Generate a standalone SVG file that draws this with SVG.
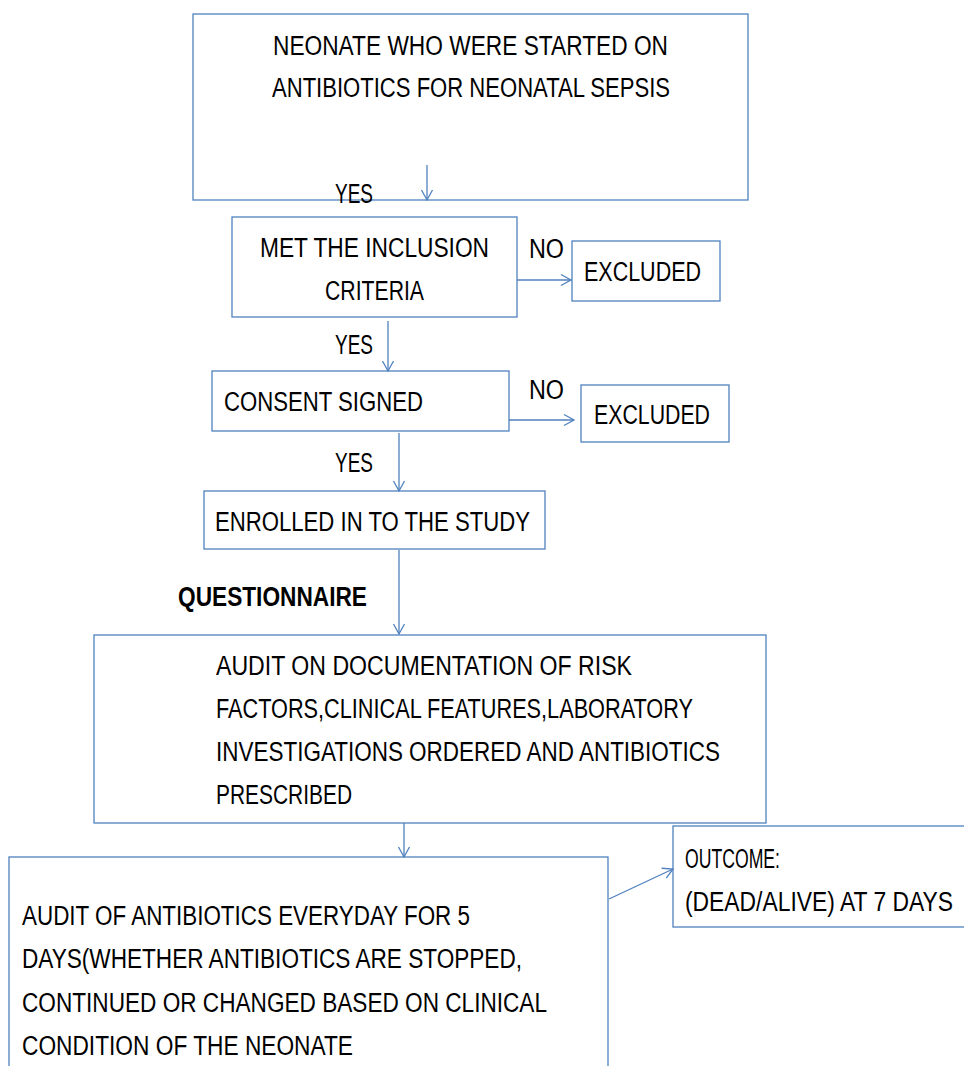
<svg xmlns="http://www.w3.org/2000/svg" width="964" height="1066" viewBox="0 0 964 1066">
<style>
.box{fill:#fff;stroke:#4F81BD;stroke-width:1.3}
.c{fill:none;stroke:#4F81BD;stroke-width:1.3}
text{font-family:"Liberation Sans Narrow","Liberation Sans",Arial,sans-serif;font-size:27px;fill:#000}
.b{font-weight:bold}
</style>
<defs>
<marker id="ah" markerUnits="userSpaceOnUse" markerWidth="14" markerHeight="14" refX="10" refY="5.5" orient="auto" overflow="visible">
<path d="M0,0 L10,5.5 L0,11" fill="none" stroke="#4F81BD" stroke-width="1.3"/>
</marker>
</defs>
<rect width="964" height="1066" fill="#fff"/>
<g id="n1"><rect class="box" x="193" y="14" width="555" height="186"/>
<text x="273" y="55" textLength="395" lengthAdjust="spacingAndGlyphs">NEONATE WHO WERE STARTED ON</text>
<text x="272" y="97" textLength="398" lengthAdjust="spacingAndGlyphs">ANTIBIOTICS FOR NEONATAL SEPSIS</text></g>
<g id="n2"><rect class="box" x="232" y="217" width="285" height="100"/>
<text x="260" y="257" textLength="229" lengthAdjust="spacingAndGlyphs">MET THE INCLUSION</text>
<text x="325" y="300" textLength="99" lengthAdjust="spacingAndGlyphs">CRITERIA</text></g>
<g id="n3"><rect class="box" x="572" y="241" width="148" height="60"/>
<text x="584" y="281" textLength="117" lengthAdjust="spacingAndGlyphs">EXCLUDED</text></g>
<g id="n4"><rect class="box" x="212" y="371" width="297" height="60"/>
<text x="224" y="411" textLength="199" lengthAdjust="spacingAndGlyphs">CONSENT SIGNED</text></g>
<g id="n5"><rect class="box" x="581" y="385" width="148" height="57"/>
<text x="594" y="424" textLength="116" lengthAdjust="spacingAndGlyphs">EXCLUDED</text></g>
<g id="n6"><rect class="box" x="204" y="491" width="341" height="58"/>
<text x="215" y="531" textLength="315" lengthAdjust="spacingAndGlyphs">ENROLLED IN TO THE STUDY</text></g>
<g id="n7"><rect class="box" x="94" y="635" width="672" height="188"/>
<text x="216" y="675" textLength="416" lengthAdjust="spacingAndGlyphs">AUDIT ON DOCUMENTATION OF RISK</text>
<text x="216" y="718" textLength="477" lengthAdjust="spacingAndGlyphs">FACTORS,CLINICAL FEATURES,LABORATORY</text>
<text x="216" y="761" textLength="504" lengthAdjust="spacingAndGlyphs">INVESTIGATIONS ORDERED AND ANTIBIOTICS</text>
<text x="216" y="804" textLength="136" lengthAdjust="spacingAndGlyphs">PRESCRIBED</text></g>
<g id="n8"><rect class="box" x="9" y="857" width="599" height="220"/>
<text x="22" y="925" textLength="448" lengthAdjust="spacingAndGlyphs">AUDIT OF ANTIBIOTICS EVERYDAY FOR 5</text>
<text x="22" y="968" textLength="500" lengthAdjust="spacingAndGlyphs">DAYS(WHETHER ANTIBIOTICS ARE STOPPED,</text>
<text x="22" y="1012" textLength="525" lengthAdjust="spacingAndGlyphs">CONTINUED OR CHANGED BASED ON CLINICAL</text>
<text x="22" y="1055" textLength="331" lengthAdjust="spacingAndGlyphs">CONDITION OF THE NEONATE</text></g>
<g id="n9"><rect class="box" x="673" y="826" width="300" height="101"/>
<text x="685" y="868" textLength="95" lengthAdjust="spacingAndGlyphs">OUTCOME:</text>
<text x="685" y="911" textLength="268" lengthAdjust="spacingAndGlyphs">(DEAD/ALIVE) AT 7 DAYS</text></g>
<g id="labels">
<text x="335" y="203" textLength="38" lengthAdjust="spacingAndGlyphs">YES</text>
<text x="529" y="258" textLength="35" lengthAdjust="spacingAndGlyphs">NO</text>
<text x="335" y="354" textLength="38" lengthAdjust="spacingAndGlyphs">YES</text>
<text x="529" y="399" textLength="35" lengthAdjust="spacingAndGlyphs">NO</text>
<text x="335" y="472" textLength="38" lengthAdjust="spacingAndGlyphs">YES</text>
<text class="b" x="178" y="606" textLength="189" lengthAdjust="spacingAndGlyphs">QUESTIONNAIRE</text>
</g>
<g id="connectors">
<line class="c" x1="427" y1="165" x2="427" y2="200" marker-end="url(#ah)"/>
<line class="c" x1="517" y1="280" x2="571" y2="280" marker-end="url(#ah)"/>
<line class="c" x1="388" y1="321" x2="388" y2="371" marker-end="url(#ah)"/>
<line class="c" x1="509" y1="420" x2="574" y2="420" marker-end="url(#ah)"/>
<line class="c" x1="399" y1="433" x2="399" y2="491" marker-end="url(#ah)"/>
<line class="c" x1="399" y1="550" x2="399" y2="634" marker-end="url(#ah)"/>
<line class="c" x1="404" y1="823" x2="404" y2="857" marker-end="url(#ah)"/>
<line class="c" x1="609" y1="899" x2="673" y2="869" marker-end="url(#ah)"/>
</g>
</svg>
